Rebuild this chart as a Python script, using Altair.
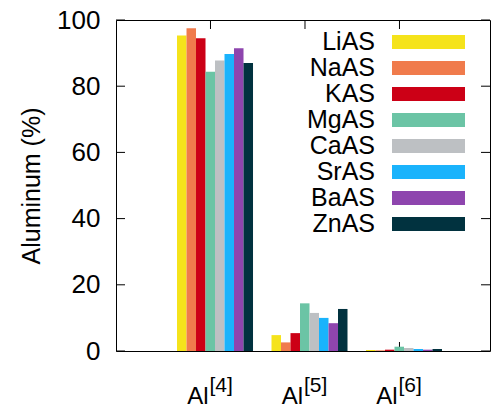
import altair as alt
import pandas as pd

categories = ["Al[4]", "Al[5]", "Al[6]"]
cat_sup = ["[4]", "[5]", "[6]"]
series = ["LiAS", "NaAS", "KAS", "MgAS", "CaAS", "SrAS", "BaAS", "ZnAS"]
al4 = [95.3, 97.5, 94.5, 84.4, 87.8, 89.7, 91.5, 87.0]
al5 = [4.8, 2.6, 5.4, 14.4, 11.5, 10.0, 8.4, 12.7]
al6 = [0.3, 0.2, 0.4, 1.3, 0.9, 0.6, 0.4, 0.6]
colors = ["#F5E31B", "#F07B4C", "#CC0016", "#6BC4A5", "#BDC0C3", "#1AB3FC", "#8E45AE", "#01323F"]
y_ticks = [0, 20, 40, 60, 80, 100]

FONT = "Liberation Sans"

rows = []
for cat, vals in zip(categories, [al4, al5, al6]):
    for s, v in zip(series, vals):
        rows.append({"cat": cat, "series": s, "value": v})
df = pd.DataFrame(rows)
cat_df = pd.DataFrame({"cat": categories, "sup": cat_sup})
tick_df = pd.DataFrame({"t": y_ticks})

W, H = 374, 331

xscale = alt.Scale(domain=categories, paddingInner=0, paddingOuter=0.479, align=0.522)
yscale = alt.Scale(domain=[0, 100], nice=False)

x_axis = alt.Axis(labelExpr="split(datum.label, '[')[0]", labelAlign="right",
                  labelBaseline="alphabetic", labelPadding=52, labelOffset=-2,
                  labelFontSize=24, ticks=False, domain=False, labelOverlap=False,
                  labelBound=False, labelAngle=0, title=None)
y_axis = alt.Axis(values=y_ticks, ticks=False, tickSize=0, domain=False, grid=False,
                  labelPadding=16, labelFontSize=26, titleFontSize=25,
                  titleFontWeight="normal", titlePadding=12, title="Aluminum (%)")

def X(field):
    return alt.X(field, scale=xscale, axis=x_axis, title=None)

def Y(field):
    return alt.Y(field, scale=yscale, axis=y_axis, title="Aluminum (%)")

left_ticks = alt.Chart(tick_df).mark_rule(color="black", strokeWidth=1).encode(
    y=Y("t:Q"), x=alt.value(0), x2=alt.value(9))
right_ticks = alt.Chart(tick_df).mark_rule(color="black", strokeWidth=1).encode(
    y=Y("t:Q"), x=alt.value(W), x2=alt.value(W - 9))
bottom_ticks = alt.Chart(cat_df).mark_rule(color="black", strokeWidth=1).encode(
    x=X("cat:N"), y=alt.value(H), y2=alt.value(H - 9))
top_ticks = alt.Chart(cat_df).mark_rule(color="black", strokeWidth=1).encode(
    x=X("cat:N"), y=alt.value(0), y2=alt.value(9))

# legend swatch (73x14 px) drawn to the right of its right-aligned label
swatch = "M2.36,-0.56H8.2V0.56H2.36Z"

bars = alt.Chart(df).mark_bar().encode(
    x=X("cat:N"),
    xOffset=alt.XOffset("series:N", sort=series,
                        scale=alt.Scale(paddingInner=0, paddingOuter=0.973, align=0.744)),
    y=Y("value:Q"),
    color=alt.Color("series:N", sort=series,
                    scale=alt.Scale(domain=series, range=colors),
                    legend=alt.Legend(title=None, orient="none", legendX=234, legendY=9.5,
                                      symbolType=swatch, symbolSize=625,
                                      symbolStrokeWidth=0, symbolOpacity=1, symbolOffset=0,
                                      labelAlign="right", labelOffset=0,
                                      labelFontSize=25, labelFont=FONT, labelColor="black",
                                      rowPadding=0, padding=0)),
)

sups = alt.Chart(cat_df).mark_text(align="left", baseline="alphabetic", dx=-1, fontSize=21,
                                   font=FONT, color="black").encode(
    x=X("cat:N"), y=alt.value(372.4), text="sup:N")

chart = alt.layer(left_ticks, right_ticks, bottom_ticks, top_ticks, bars, sups).properties(
    width=W, height=H,
    autosize=alt.AutoSizeParams(type="none"),
    padding={"left": 116, "top": 20, "right": 10, "bottom": 57},
).configure_axis(
    labelFont=FONT, titleFont=FONT, labelColor="black", titleColor="black",
).configure_view(stroke="black", strokeWidth=1)

chart.save("out.html", embed_options={"renderer": "svg", "actions": False})
